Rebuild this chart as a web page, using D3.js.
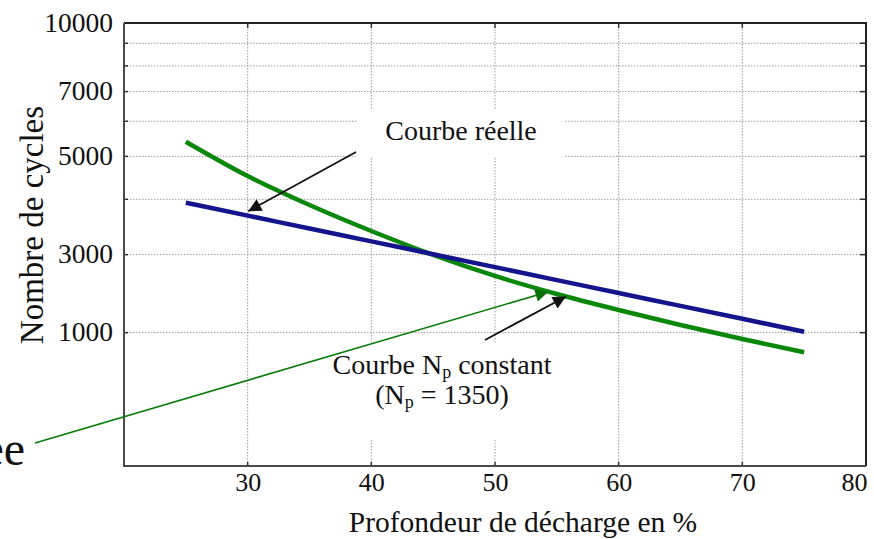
<!DOCTYPE html>
<html>
<head>
<meta charset="utf-8">
<script src="https://cdn.jsdelivr.net/npm/d3@7"></script>
<style>
  html, body { margin: 0; padding: 0; background: #fff; }
  svg { display: block; }
</style>
</head>
<body>
<svg id="chart" width="874" height="539"></svg>
<script>
// ---- data ----
const depthValues = [25, 30, 35, 40, 45, 50, 55, 60, 65, 70, 75];           // Profondeur de décharge (%)
const courbeReelle = [3930, 3675, 3437, 3214, 3006, 2811, 2628, 2458, 2298, 2149, 2010];
const courbeNpConstant = [5396, 4514, 3883, 3392, 2995, 2685, 2445, 2250, 2081, 1935, 1806];
const xTickValues = [30, 40, 50, 60, 70, 80];
const xTickLabels = ["30", "40", "50", "60", "70", "80"];
const yTickValues = [10000, 7000, 5000, 3000, 2000];
const yTickLabels = ["10000", "7000", "5000", "3000", "1000"];
const yGridValues = [2000, 3000, 4000, 5000, 6000, 7000, 8000, 9000];
const xGridValues = [30, 40, 50, 60, 70];

// ---- layout ----
const FONT = '"Liberation Serif", "Times New Roman", serif';
const pL = 124, pR = 866, pT = 23, pB = 466;
const svg = d3.select("#chart");

const x = d3.scaleLinear().domain([20, 80]).range([pL, pR]);
const y = d3.scaleLog().domain([1000, 10000]).range([pB, pT]);

// grid
const grid = svg.append("g");
grid.selectAll("line.h").data(yGridValues).join("line")
  .attr("x1", pL).attr("x2", pR)
  .attr("y1", d => y(d)).attr("y2", d => y(d))
  .attr("stroke", "#9a9a9a").attr("stroke-width", 1).attr("stroke-dasharray", "1.5,1.5");
grid.selectAll("line.v").data(xGridValues).join("line")
  .attr("x1", d => x(d)).attr("x2", d => x(d))
  .attr("y1", pT).attr("y2", pB)
  .attr("stroke", "#9a9a9a").attr("stroke-width", 1).attr("stroke-dasharray", "1.5,1.5");

// white label boxes (cover grid)
svg.append("rect").attr("x", 356).attr("y", 110).attr("width", 208).attr("height", 48).attr("fill", "#fff");
svg.append("rect").attr("x", 328).attr("y", 342).attr("width", 230).attr("height", 98).attr("fill", "#fff");

// frame ticks (inward)
const tk = svg.append("g").attr("stroke", "#333").attr("stroke-width", 1.5);
tk.selectAll("line.r").data(yGridValues).join("line")
  .attr("x1", pR - 6).attr("x2", pR).attr("y1", d => y(d)).attr("y2", d => y(d));
tk.selectAll("line.l").data(yGridValues).join("line")
  .attr("x1", pL).attr("x2", pL + 4).attr("y1", d => y(d)).attr("y2", d => y(d));
tk.selectAll("line.t").data(xGridValues).join("line")
  .attr("x1", d => x(d)).attr("x2", d => x(d)).attr("y1", pT).attr("y2", pT + 5);
tk.selectAll("line.b").data(xGridValues).join("line")
  .attr("x1", d => x(d)).attr("x2", d => x(d)).attr("y1", pB - 4).attr("y2", pB);

// frame
svg.append("path")
  .attr("d", `M${pL},${pT}H${pR}V${pB}`)
  .attr("fill", "none").attr("stroke", "#222").attr("stroke-width", 2);
svg.append("path")
  .attr("d", `M${pL},${pT}V${pB}H${pR}`)
  .attr("fill", "none").attr("stroke", "#4a4a4a").attr("stroke-width", 2);

// axes labels via d3 axes
const yAxis = d3.axisLeft(y).tickValues(yTickValues)
  .tickFormat((d, i) => yTickLabels[i]).tickSize(0).tickPadding(11);
const gy = svg.append("g").attr("transform", `translate(${pL},0)`).call(yAxis);
gy.select(".domain").remove();
gy.selectAll("text").style("font-family", FONT).attr("font-size", 27.5).attr("fill", "#111").attr("dy", "0.3em");

const xAxis = d3.axisBottom(x).tickValues(xTickValues)
  .tickFormat((d, i) => xTickLabels[i]).tickSize(0).tickPadding(7);
const gx = svg.append("g").attr("transform", `translate(0,${pB})`).call(xAxis);
gx.select(".domain").remove();
gx.selectAll("text").style("font-family", FONT).attr("font-size", 26).attr("fill", "#111");
gx.selectAll(".tick").filter(d => d === 80).select("text").attr("text-anchor", "end").attr("dx", 1);

function label(sel) { return sel.style("font-family", FONT).attr("fill", "#111"); }

// axis titles
label(svg.append("text")).attr("x", 523).attr("y", 532).attr("text-anchor", "middle")
  .attr("font-size", 29.5).text("Profondeur de décharge en %");
label(svg.append("text")).attr("transform", "translate(43,225) rotate(-90)").attr("text-anchor", "middle")
  .attr("font-size", 33).text("Nombre de cycles");

// curves
const line = d3.line().x((d, i) => x(depthValues[i])).y(d => y(d)).curve(d3.curveMonotoneX);
svg.append("path").datum(courbeNpConstant).attr("d", line)
  .attr("fill", "none").attr("stroke", "#0b880b").attr("stroke-width", 4.5);
svg.append("path").datum(courbeReelle).attr("d", line)
  .attr("fill", "none").attr("stroke", "#14148c").attr("stroke-width", 4.5);

// arrows
const defs = svg.append("defs");
function marker(id, color, w, h) {
  defs.append("marker").attr("id", id).attr("viewBox", "0 0 10 10")
    .attr("refX", 10).attr("refY", 5).attr("markerUnits", "userSpaceOnUse")
    .attr("markerWidth", w).attr("markerHeight", h).attr("orient", "auto")
    .append("path").attr("d", "M0,0L10,5L0,10z").attr("fill", color);
}
marker("headK", "#111", 20, 13);
marker("headG", "#0a6e0a", 18, 13);

function arrow(x1, v1, x2, v2, color, width, mk) {
  svg.append("line")
    .attr("x1", x(x1)).attr("y1", y(v1)).attr("x2", x(x2)).attr("y2", y(v2))
    .attr("stroke", color).attr("stroke-width", width).attr("marker-end", `url(#${mk})`);
}
arrow(12.8, 1127, 54.32, 2475, "#0a7a0a", 1.6, "headG");
arrow(38.76, 5115, 30.05, 3760, "#111", 1.8, "headK");
arrow(49.19, 1925, 55.74, 2413, "#111", 1.8, "headK");

// annotation text
label(svg.append("text")).attr("x", 461).attr("y", 140).attr("text-anchor", "middle")
  .attr("font-size", 28).text("Courbe réelle");

const t1 = label(svg.append("text")).attr("x", 442).attr("y", 374).attr("text-anchor", "middle").attr("font-size", 28);
t1.append("tspan").text("Courbe N");
t1.append("tspan").attr("font-size", 18).attr("dy", 4).text("p");
t1.append("tspan").attr("dy", -4).text(" constant");

const t2 = label(svg.append("text")).attr("x", 442).attr("y", 404).attr("text-anchor", "middle").attr("font-size", 28);
t2.append("tspan").text("(N");
t2.append("tspan").attr("font-size", 18).attr("dy", 4).text("p");
t2.append("tspan").attr("dy", -4).text(" = 1350)");

// cut-off word at left edge
label(svg.append("text")).attr("x", 25).attr("y", 465).attr("text-anchor", "end")
  .attr("font-size", 48).text("ee");
</script>
</body>
</html>
